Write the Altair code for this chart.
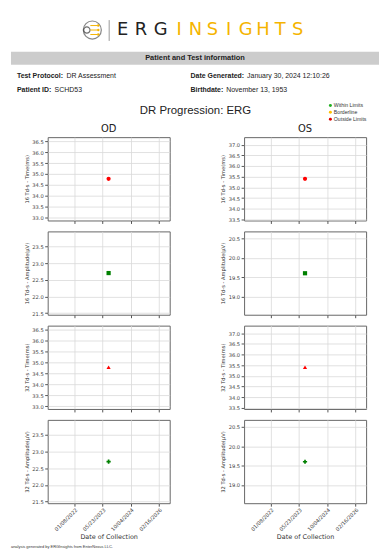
import altair as alt
import pandas as pd

# ---------------- data ----------------
collection_dates = ["2023-09-05T00:00:00"]
od_16_time = [34.78]
od_16_amp = [22.70]
od_32_time = [34.78]
od_32_amp = [22.70]
os_16_time = [35.40]
os_16_amp = [19.60]
os_32_time = [35.40]
os_32_amp = [19.60]

x_tick_dates = [(2022, 1, 8), (2023, 5, 23), (2024, 10, 4), (2026, 2, 16)]
x_domain_dates = [(2020, 9, 20), (2026, 8, 23)]

od_time_ticks = [33.0, 33.5, 34.0, 34.5, 35.0, 35.5, 36.0, 36.5]
od_amp_ticks = [21.5, 22.0, 22.5, 23.0, 23.5]
os_time_ticks = [33.5, 34.0, 34.5, 35.0, 35.5, 36.0, 36.5, 37.0]
os_amp_ticks = [19.0, 19.5, 20.0, 20.5]

od_time_domain = [32.88, 36.68]
od_amp_domain = [21.45, 23.95]
os_time_domain = [33.45, 37.35]
os_amp_domain = [18.53, 20.68]

y_titles = ["16 Td-s - Time(ms)", "16 Td-s - Amplitude(µV)",
            "32 Td-s - Time(ms)", "32 Td-s - Amplitude(µV)"]
shapes = ["circle", "square", "triangle-up", "cross"]
point_colors = ["#ff0000", "#008000", "#ff0000", "#008000"]

legend_labels = ["Within Limits", "Borderline", "Outside Limits"]
legend_colors = ["#22b022", "#ffc000", "#e00000"]

logo_letters = list("ERGINSIGHTS")
logo_colors = ["#222222"] * 3 + ["#f5b400"] * 8

FONT = "DejaVu Sans"
SANS = "Liberation Sans"
one = pd.DataFrame({"a": [0]})


def dt(t):
    return alt.DateTime(year=t[0], month=t[1], date=t[2])


def panel(values, ytitle, ydomain, yticks, shape, color, title_text=None, bottom=False):
    df = pd.DataFrame({"date": collection_dates, "value": values})
    xkw = dict(values=[dt(t) for t in x_tick_dates], format="%m/%d/%Y", grid=True,
               ticks=True, tickSize=3, labelFlush=False)
    if bottom:
        xkw.update(labels=True, labelAngle=315, labelFontSize=5.2, labelPadding=1,
                   title="Date of Collection", titleFontSize=6.5, titlePadding=2)
    else:
        xkw.update(labels=False, title=None)
    ch = alt.Chart(df).mark_point(filled=True, shape=shape, size=18, color=color, opacity=1).encode(
        x=alt.X("date:T", scale=alt.Scale(domain=[dt(t) for t in x_domain_dates]),
                axis=alt.Axis(**xkw)),
        y=alt.Y("value:Q", scale=alt.Scale(domain=ydomain, zero=False, nice=False),
                axis=alt.Axis(values=yticks, format=".1f", title=ytitle, labelFontSize=5.2,
                              titleFontSize=5.2, labelPadding=1.5, titlePadding=2.5,
                              tickSize=3, grid=True, labelFlush=False)),
    ).properties(width=123, height=84)
    if title_text:
        ch = ch.properties(title=alt.TitleParams(title_text, fontSize=10, offset=3, anchor="middle",
                                                 frame="group", font=FONT, fontWeight="normal",
                                                 color="#222222"))
    return ch


def column(name, vals, domains, ticks):
    panels = []
    for i in range(4):
        panels.append(panel(vals[i], y_titles[i], domains[i], ticks[i], shapes[i], point_colors[i],
                            title_text=name if i == 0 else None, bottom=(i == 3)))
    return alt.vconcat(*panels, spacing=6)


left = column("OD", [od_16_time, od_16_amp, od_32_time, od_32_amp],
              [od_time_domain, od_amp_domain, od_time_domain, od_amp_domain],
              [od_time_ticks, od_amp_ticks, od_time_ticks, od_amp_ticks])
right = column("OS", [os_16_time, os_16_amp, os_32_time, os_32_amp],
               [os_time_domain, os_amp_domain, os_time_domain, os_amp_domain],
               [os_time_ticks, os_amp_ticks, os_time_ticks, os_amp_ticks])

noframe = alt.ViewBackground(strokeOpacity=0)
spacer = alt.Chart(one).mark_point(opacity=0).encode(
    x=alt.value(0), y=alt.value(0)).properties(width=1, height=1, view=noframe)

grid = alt.hconcat(spacer, alt.hconcat(left, right, spacing=49), spacing=9)


# ---------------- header ----------------
def txt(s, x, y, size, weight="normal", color="#222222", align="left", font=SANS):
    return alt.Chart(one).mark_text(text=s, fontSize=size, fontWeight=weight, color=color,
                                    align=align, baseline="middle", font=font).encode(
        x=alt.value(x), y=alt.value(y))


layers = []
# logo icon
layers.append(alt.Chart(one).mark_point(shape="circle", size=330, filled=False, color="#555555",
                                        strokeWidth=1.2).encode(x=alt.value(82), y=alt.value(20)))
layers.append(alt.Chart(one).mark_point(shape="circle", size=40, filled=False, color="#333333",
                                        strokeWidth=1.2).encode(x=alt.value(76.5), y=alt.value(20)))
for yy in [15.5, 20, 24.5]:
    layers.append(alt.Chart(one).mark_rule(color="#f5b400", strokeWidth=1).encode(
        x=alt.value(80), x2=alt.value(87), y=alt.value(yy)))
    layers.append(alt.Chart(one).mark_point(shape="circle", size=6, filled=True, color="#f5b400",
                                            opacity=1).encode(x=alt.value(88), y=alt.value(yy)))
layers.append(alt.Chart(one).mark_rule(color="#999999", strokeWidth=1).encode(
    x=alt.value(99), y=alt.value(10), y2=alt.value(31)))
letter_x = [112.5, 131, 151, 169.5, 186, 203, 219.5, 236.5, 254, 271.5, 289]
for ch_, cx, col in zip(logo_letters, letter_x, logo_colors):
    layers.append(txt(ch_, cx, 20.5, 18, weight="normal", color=col, align="center", font=FONT))

# info band
layers.append(alt.Chart(one).mark_rect(color="#cccccc").encode(
    x=alt.value(0), x2=alt.value(371), y=alt.value(42), y2=alt.value(55)))
layers.append(txt("Patient and Test information", 185.5, 48.5, 7.5, weight="bold", align="center"))
layers.append(txt("Test Protocol:", 6, 66, 7, weight="bold"))
layers.append(txt("DR Assessment", 56, 66, 7))
layers.append(txt("Patient ID:", 6, 80, 7, weight="bold"))
layers.append(txt("SCHD53", 44, 80, 7))
layers.append(txt("Date Generated:", 181, 66, 7, weight="bold"))
layers.append(txt("January 30, 2024 12:10:26", 238, 66, 7))
layers.append(txt("Birthdate:", 181, 80, 7, weight="bold"))
layers.append(txt("November 13, 1953", 217, 80, 7))
layers.append(txt("DR Progression: ERG", 186, 102, 11.5, align="center"))
for i, (lab, col) in enumerate(zip(legend_labels, legend_colors)):
    yy = 96 + 7 * i
    layers.append(alt.Chart(one).mark_point(shape="circle", size=9, filled=True, color=col,
                                            opacity=1).encode(x=alt.value(322), y=alt.value(yy)))
    layers.append(txt(lab, 325.5, yy, 5.2, color="#333333"))

header = alt.layer(*layers).properties(width=371, height=114, view=noframe)

footer = txt("analysis generated by ERGInsights from EnterNexus LLC.", 0, 6, 4, color="#333333") \
    .properties(width=371, height=10, view=noframe)

chart = alt.vconcat(header, grid, footer, spacing=0).properties(
    padding={"left": 0, "top": 0, "right": 0, "bottom": 0}
).configure_view(stroke="#666666", strokeWidth=1).configure_axis(
    labelFont=FONT, titleFont=FONT, labelColor="#444444", titleColor="#333333",
    gridColor="#d9d9d9", gridWidth=0.8, tickColor="#555555", domain=False,
    titleFontWeight="normal"
)

chart.save("out.html", embed_options={"renderer": "svg", "actions": False})
